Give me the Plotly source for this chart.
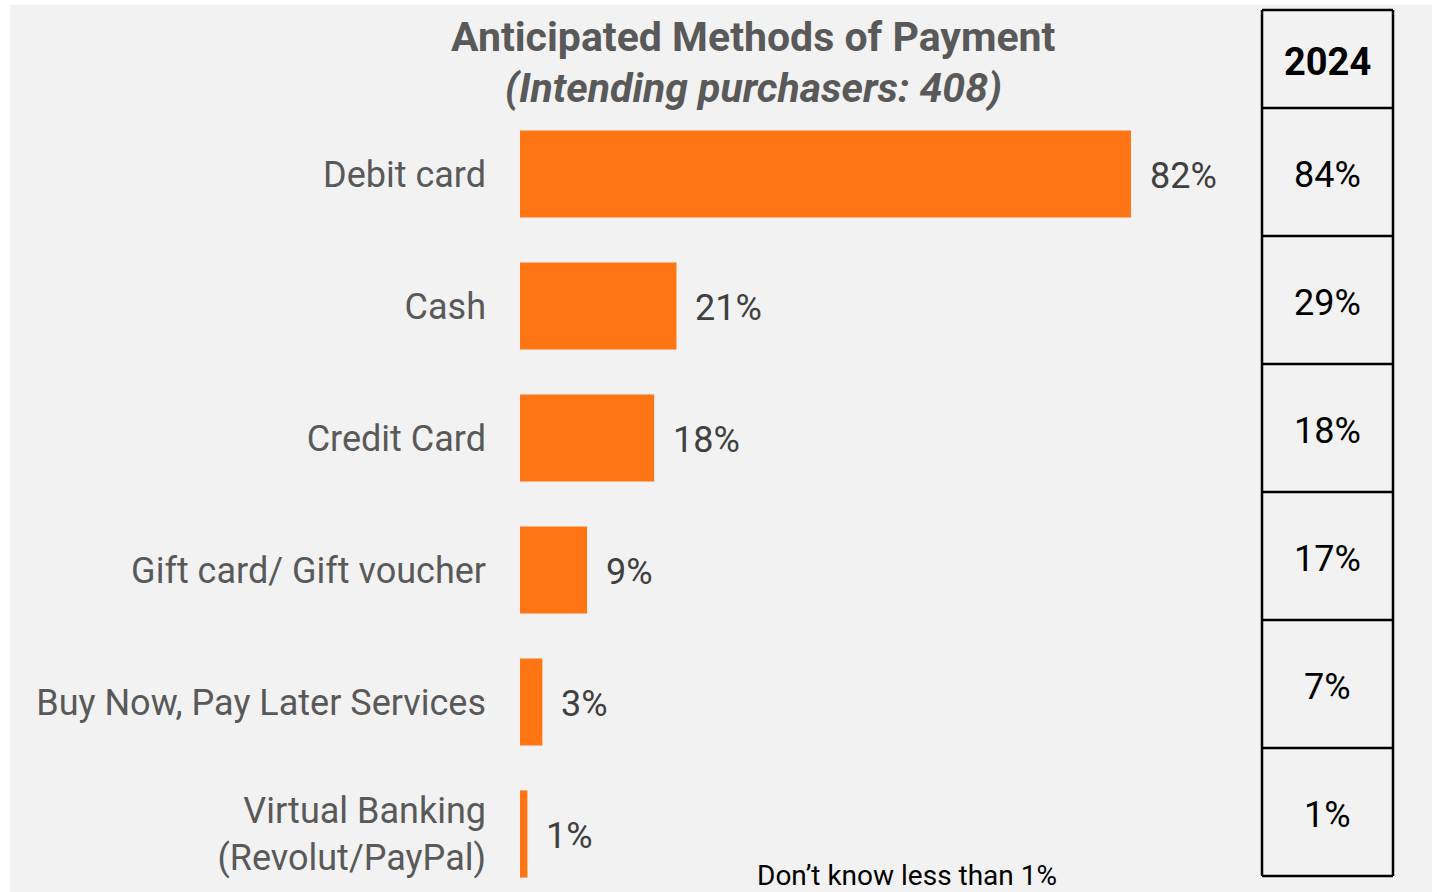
import plotly.graph_objects as go

# Survey results: anticipated payment methods
categories = [
    "Debit card",
    "Cash",
    "Credit Card",
    "Gift card/ Gift voucher",
    "Buy Now, Pay Later Services",
    "Virtual Banking<br>(Revolut/PayPal)",
]
share_2025 = [82, 21, 18, 9, 3, 1]
share_2024 = [84, 29, 18, 17, 7, 1]
comparison_year = "2024"

title_line1 = "Anticipated Methods of Payment"
title_line2 = "(Intending purchasers: 408)"
footnote = "Don\u2019t know less than 1%"

BAR_COLOR = "#FF7514"
BG = "#F2F2F2"
FONT = "Roboto"

# Page geometry (pixels)
FIG_W, FIG_H = 1432, 892
M_L, M_R, M_T, M_B = 520, 182, 108, 0
PLOT_W = FIG_W - M_L - M_R
PLOT_H = FIG_H - M_T - M_B


def px_x(x):
    return (x - M_L) / PLOT_W


def px_y(y):
    return 1 - (y - M_T) / PLOT_H


fig = go.Figure()
fig.add_trace(go.Bar(
    x=share_2025,
    y=categories,
    orientation="h",
    marker=dict(color=BAR_COLOR, line=dict(width=0)),
    width=0.66,
    hoverinfo="skip",
))

annotations = []
# value labels beside the bars
for cat, v in zip(categories, share_2025):
    annotations.append(dict(
        x=v, y=cat, xref="x", yref="y", text=f"{v}%",
        xanchor="left", yanchor="middle", xshift=17, yshift=-2,
        showarrow=False, font=dict(family=FONT, size=36, color="#404040"),
    ))

# title
annotations.append(dict(
    x=px_x(753), y=px_y(37), xref="paper", yref="paper",
    text=f"<b>{title_line1}</b>", showarrow=False,
    xanchor="center", yanchor="middle",
    font=dict(family=FONT, size=41, color="#595959"),
))
annotations.append(dict(
    x=px_x(753), y=px_y(88), xref="paper", yref="paper",
    text=f"<b><i>{title_line2}</i></b>", showarrow=False,
    xanchor="center", yanchor="middle",
    font=dict(family=FONT, size=41, color="#595959"),
))

# footnote
annotations.append(dict(
    x=px_x(755), y=px_y(875), xref="paper", yref="paper",
    text=footnote, showarrow=False, xanchor="left", yanchor="middle",
    font=dict(family=FONT, size=28, color="#000000"),
))

# comparison table on the right
T_X0, T_X1 = 1262, 1393
T_TOP, T_HEAD = 10, 108
ROW_H = 128
row_edges = [T_TOP, T_HEAD] + [T_HEAD + ROW_H * (i + 1) for i in range(len(share_2024))]

shapes = [
    # white page border on the left and top
    dict(type="rect", xref="paper", yref="paper",
         x0=px_x(0), x1=px_x(10), y0=px_y(FIG_H), y1=px_y(0),
         fillcolor="white", line=dict(width=0), layer="below"),
    dict(type="rect", xref="paper", yref="paper",
         x0=px_x(0), x1=px_x(FIG_W), y0=px_y(5), y1=px_y(0),
         fillcolor="white", line=dict(width=0), layer="below"),
]
line_style = dict(color="#000000", width=2.5)
for yy in row_edges:
    shapes.append(dict(type="line", xref="paper", yref="paper",
                       x0=px_x(T_X0), x1=px_x(T_X1), y0=px_y(yy), y1=px_y(yy),
                       line=line_style))
for xx in (T_X0, T_X1):
    shapes.append(dict(type="line", xref="paper", yref="paper",
                       x0=px_x(xx), x1=px_x(xx), y0=px_y(row_edges[0]), y1=px_y(row_edges[-1]),
                       line=line_style))

tx = px_x((T_X0 + T_X1) / 2)
annotations.append(dict(
    x=tx, y=px_y(62), xref="paper", yref="paper", text=f"<b>{comparison_year}</b>",
    showarrow=False, xanchor="center", yanchor="middle",
    font=dict(family=FONT, size=38, color="#000000"),
))
for i, v in enumerate(share_2024):
    yc = (row_edges[i + 1] + row_edges[i + 2]) / 2 + 3
    annotations.append(dict(
        x=tx, y=px_y(yc), xref="paper", yref="paper", text=f"{v}%",
        showarrow=False, xanchor="center", yanchor="middle",
        font=dict(family=FONT, size=36, color="#000000"),
    ))

fig.update_layout(
    width=FIG_W, height=FIG_H,
    margin=dict(l=M_L, r=M_R, t=M_T, b=M_B, pad=0),
    paper_bgcolor=BG, plot_bgcolor=BG,
    showlegend=False,
    annotations=annotations,
    shapes=shapes,
    xaxis=dict(range=[0, PLOT_W / (611 / 82)], visible=False, fixedrange=True),
    yaxis=dict(
        range=[-0.5 + PLOT_H / 132, -0.5],
        showgrid=False, zeroline=False, showline=False, ticks="",
        ticklabelstandoff=33,
        tickfont=dict(family=FONT, size=36, color="#595959"),
        fixedrange=True,
    ),
)

fig.write_html("out.html", config=dict(displayModeBar=False))
